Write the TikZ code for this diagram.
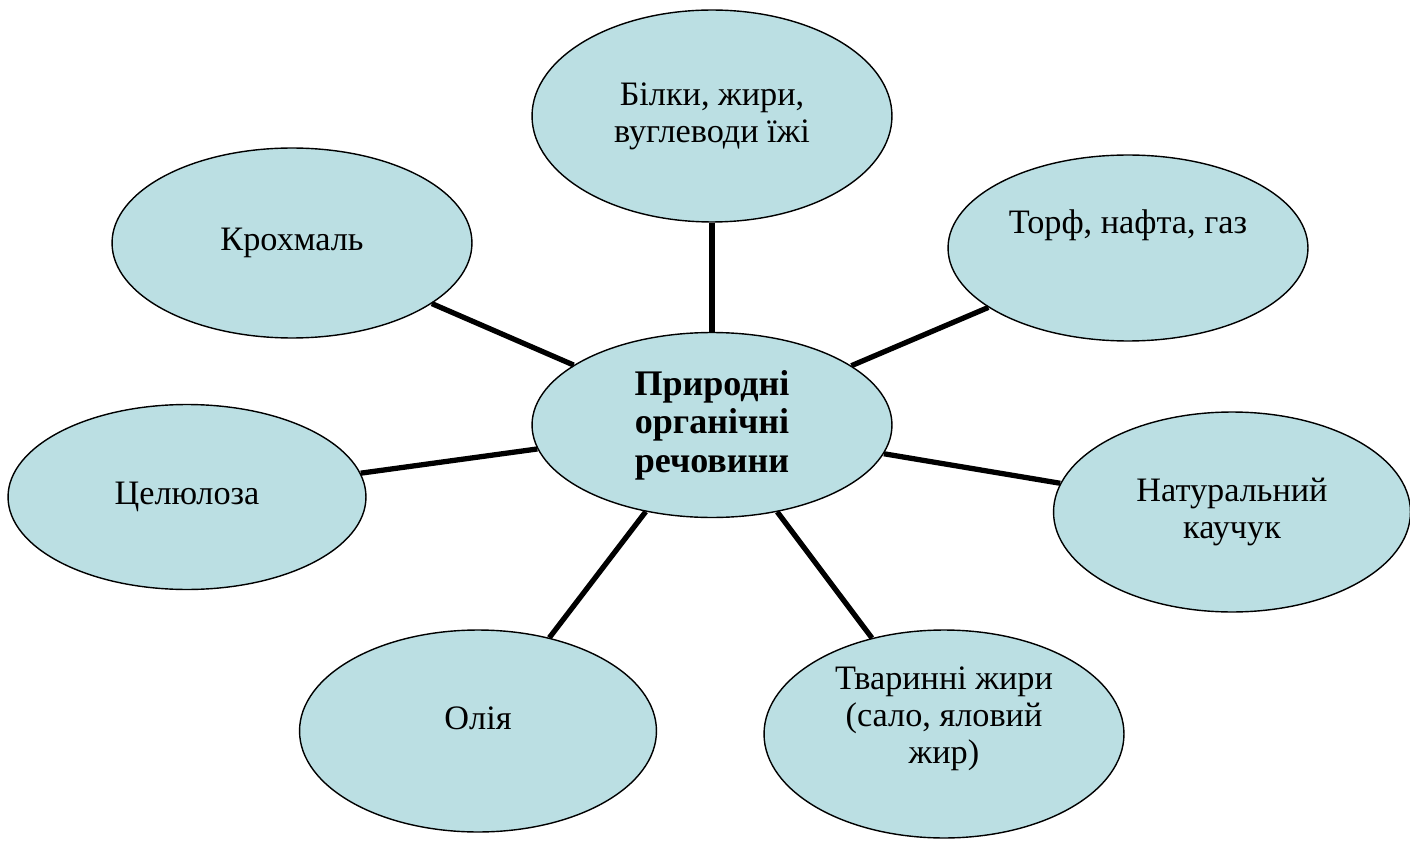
\documentclass[tikz,border=0pt]{standalone}
\usepackage{fontspec}
\setmainfont{Liberation Serif}
\usetikzlibrary{shapes.geometric}
\definecolor{bubble}{HTML}{BBDFE3}

\begin{document}
\begin{tikzpicture}[
  x=0.02cm, y=-0.02cm,
  font=\fontsize{19.5}{21}\selectfont,
  bubble/.style={ellipse, draw, fill=bubble, line width=0.8pt, inner sep=0pt, align=center, minimum width=7.2cm, minimum height=3.8cm},
  spoke/.style={line width=3pt}
]
\useasboundingbox (0,0) rectangle (1410,841);

\node[bubble, minimum height=3.7cm, font=\fontsize{20.5}{22}\selectfont\bfseries] (hub) at (712,425) {Природні\\органічні\\речовини};

\node[bubble, minimum height=4.24cm] (food) at (712,116) {Білки, жири,\\вуглеводи їжі};
\node[bubble, minimum height=3.72cm, text depth=1.05cm] (fuel) at (1128,248) {Торф, нафта, газ};
\node[bubble] (starch) at (292,243) {Крохмаль};
\node[bubble, minimum width=7.16cm, minimum height=3.7cm] (cellulose) at (187,497) {Целюлоза};
\node[bubble, minimum width=7.14cm, minimum height=4cm] (rubber) at (1232,512) {Натуральний\\каучук};
\node[bubble, minimum width=7.14cm, minimum height=4.04cm, text depth=0.5cm] (oil) at (478,731) {Олія};
\node[bubble, minimum height=4.16cm, text depth=0.75cm] (fats) at (944,734) {Тваринні жири\\(сало, яловий\\жир)};

\draw[spoke] (hub) -- (food);
\draw[spoke] (hub) -- (fuel);
\draw[spoke] (hub) -- (starch);
\draw[spoke] (hub) -- (cellulose);
\draw[spoke] (hub) -- (rubber);
\draw[spoke] (hub) -- (oil);
\draw[spoke] (hub) -- (fats);
\end{tikzpicture}
\end{document}
